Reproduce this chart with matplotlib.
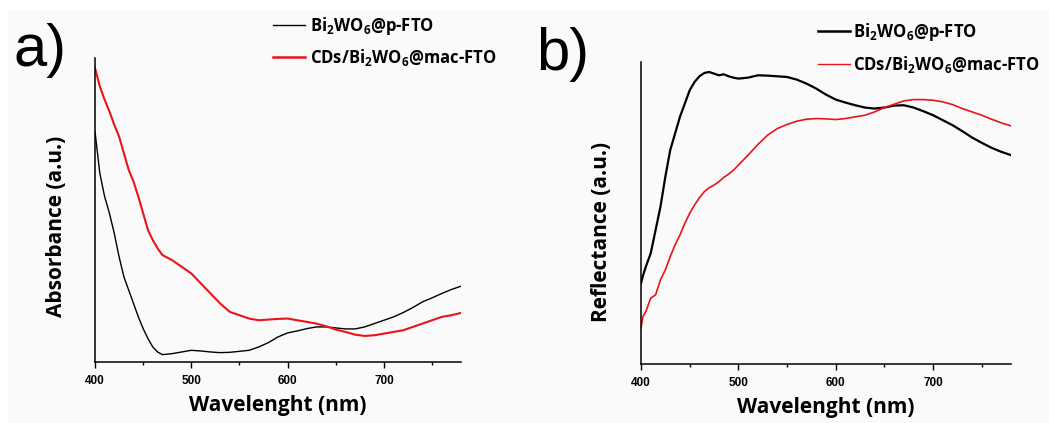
import matplotlib
matplotlib.use("Agg")
import matplotlib.pyplot as plt
from matplotlib.lines import Line2D
from matplotlib.patches import Rectangle
import numpy as np

plt.rcParams['mathtext.fontset'] = 'custom'
plt.rcParams['mathtext.rm'] = 'Open Sans:bold'
plt.rcParams['mathtext.bf'] = 'Open Sans:bold'
plt.rcParams['mathtext.it'] = 'Open Sans:bold'
plt.rcParams['mathtext.default'] = 'rm'

# ---------------- data ----------------
wl_a = [400, 405, 410, 415, 420, 425, 430, 435, 440, 445, 450, 455, 460, 465, 470,
        480, 490, 500, 510, 520, 530, 540, 550, 560, 570, 580, 590, 600, 610, 620,
        630, 640, 650, 660, 670, 680, 690, 700, 710, 720, 730, 740, 750, 760, 770, 780]
abs_bi = [690, 565, 495, 445, 385, 315, 255, 215, 175, 135, 100, 70, 45, 30, 22,
          25, 30, 35, 33, 30, 28, 29, 32, 35, 45, 58, 75, 87, 93, 100,
          105, 105, 102, 99, 99, 105, 115, 125, 135, 148, 163, 180, 192, 205, 217, 227]
abs_cd = [880, 825, 785, 750, 710, 675, 625, 575, 540, 495, 445, 395, 365, 340, 320,
          305, 285, 265, 235, 205, 175, 150, 140, 130, 125, 127, 129, 130, 125, 120,
          115, 107, 97, 90, 82, 78, 80, 85, 90, 95, 105, 115, 125, 135, 140, 147]

wl_b = [400, 402, 405, 410, 415, 420, 425, 430, 435, 440, 445, 450, 455, 460, 465,
        470, 475, 480, 485, 490, 495, 500, 510, 520, 530, 540, 550, 560, 570, 580,
        590, 600, 610, 620, 630, 640, 650, 660, 670, 680, 690, 700, 710, 720, 730,
        740, 750, 760, 770, 780]
ref_bi = [243, 265, 293, 333, 403, 473, 563, 643, 693, 743, 783, 823, 848, 865, 875,
          878, 873, 868, 871, 865, 861, 858, 861, 868, 867, 865, 863, 855, 843, 828,
          810, 795, 786, 778, 771, 768, 771, 777, 778, 771, 760, 748, 733, 718, 700,
          681, 665, 650, 638, 628]
ref_cd = [108, 143, 158, 198, 208, 253, 283, 323, 358, 388, 423, 453, 478, 500, 518,
          530, 538, 548, 561, 571, 583, 598, 628, 660, 688, 708, 720, 730, 736, 738,
          737, 735, 738, 743, 748, 758, 771, 781, 791, 795, 795, 793, 788, 780, 768,
          758, 748, 736, 725, 716]

xticks = [400, 500, 600, 700]
label_bi = r'Bi$_{2}$WO$_{6}$@p-FTO'
label_cd = r'CDs/Bi$_{2}$WO$_{6}$@mac-FTO'

# ---------------- figure ----------------
W, H = 1049, 423
fig = plt.figure(figsize=(W / 100, H / 100), dpi=100, facecolor='white')
fig.patches.append(Rectangle((8 / W, 0), 1, 1 - 10 / H, transform=fig.transFigure,
                             facecolor='#fafafa', edgecolor='none', zorder=-10))

tick_font = dict(family='Liberation Sans', weight='bold', size=8.5)
lab_font = dict(family='Open Sans', weight='bold', size=15)


def px_axes(l, r, t, b):
    return fig.add_axes([l / W, 1 - b / H, (r - l) / W, (b - t) / H])


def style(ax, ytop):
    ax.set_facecolor('none')
    ax.set_xlim(400, 780)
    ax.set_ylim(0, ytop)
    for s in ['top', 'right']:
        ax.spines[s].set_visible(False)
    for s in ['left', 'bottom']:
        ax.spines[s].set_linewidth(1.1)
    ax.set_yticks([])
    ax.set_xticks(xticks)
    ax.set_xticks([450, 550, 650, 750], minor=True)
    ax.tick_params(axis='x', which='major', direction='out', length=4, width=1.0, pad=5)
    ax.tick_params(axis='x', which='minor', direction='out', length=2.5, width=1.0)
    for t in ax.get_xticklabels():
        t.set_fontfamily(tick_font['family'])
        t.set_fontweight('bold')
        t.set_fontsize(tick_font['size'])
    ax.set_xlabel('Wavelenght (nm)', labelpad=6, **lab_font)


legend_prop = dict(family='Open Sans', weight='bold', size=12)

# panel a
axa = px_axes(95, 461, 58, 362)
axa.plot(wl_a, abs_bi, color='black', lw=1.0)
axa.plot(wl_a, abs_cd, color='#e8141b', lw=1.5)
style(axa, 910)
axa.set_ylabel('Absorbance (a.u.)', **lab_font)
axa.yaxis.set_label_coords(-0.077, 0.447)
fig.text(14 / W, 1 - 66 / H, 'a)', family='Liberation Sans', size=43, ha='left',
         va='baseline')
handles_a = [Line2D([], [], color='black', lw=1.0), Line2D([], [], color='#e8141b', lw=1.8)]
axa.legend(handles_a, [label_bi, label_cd], loc='upper left',
           bbox_to_anchor=(273 / W, 1 - 15 / H), bbox_transform=fig.transFigure,
           frameon=False, handlelength=1.9, handletextpad=0.35, labelspacing=0.6,
           borderpad=0, borderaxespad=0, prop=legend_prop)

# panel b
axb = px_axes(641, 1011, 62, 364)
axb.plot(wl_b, ref_bi, color='black', lw=1.6)
axb.plot(wl_b, ref_cd, color='#e8141b', lw=1.2)
style(axb, 908)
axb.set_ylabel('Reflectance (a.u.)', **lab_font)
axb.yaxis.set_label_coords(-0.078, 0.437)
fig.text(536 / W, 1 - 70 / H, 'b)', family='Liberation Sans', size=43, ha='left',
         va='baseline')
handles_b = [Line2D([], [], color='black', lw=1.8), Line2D([], [], color='#e8141b', lw=1.0)]
axb.legend(handles_b, [label_bi, label_cd], loc='upper left',
           bbox_to_anchor=(818 / W, 1 - 21 / H), bbox_transform=fig.transFigure,
           frameon=False, handlelength=1.9, handletextpad=0.2, labelspacing=0.65,
           borderpad=0, borderaxespad=0, prop=legend_prop)

fig.savefig('out.png', dpi=100, facecolor=fig.get_facecolor())
